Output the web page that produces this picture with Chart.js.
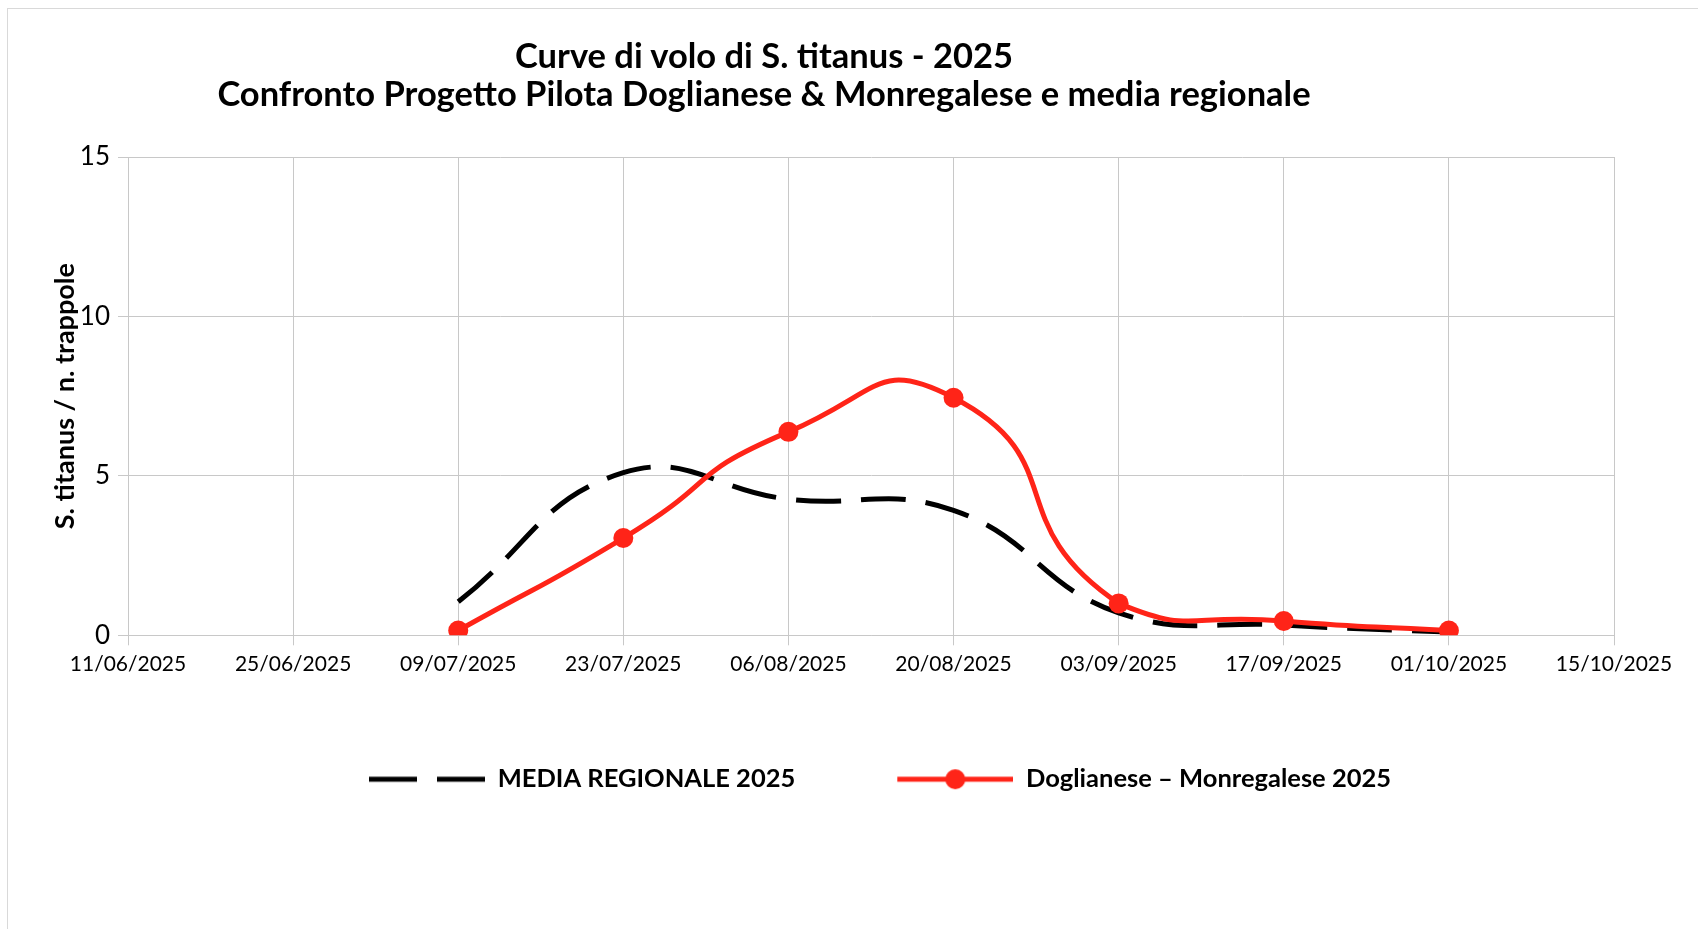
<!DOCTYPE html>
<html lang="it">
<head>
    <meta charset="UTF-8">
    <title>Curve di volo di S. titanus - 2025</title>
    <style>
        body { margin: 0; background: #fff; font-family: Lato, sans-serif; }
        .wrap { position: relative; width: 1698px; height: 929px; overflow: hidden; }
        .frame { position: absolute; left: 7px; top: 8px; width: 1800px; height: 1000px;
                 border-top: 1px solid #d9d9d9; border-left: 1px solid #d9d9d9; }
        .title { position: absolute; left: 0; top: 36px; width: 1528px; text-align: center;
                 font: bold 34.5px Lato, sans-serif; line-height: 38px; color: #000; }
        canvas { position: absolute; left: 0; top: 0; }
    </style>
</head>
<body>
<div class="wrap">
    <div class="frame"></div>
    <canvas id="chart" width="1698" height="929"></canvas>
    <div class="title">Curve di volo di S. titanus - 2025<br>Confronto Progetto Pilota Doglianese &amp; Monregalese e media regionale</div>
</div>

<script src="https://cdn.jsdelivr.net/npm/chart.js"></script>
<script>
// dates of the trap readings
const dates = ['09/07/2025', '23/07/2025', '06/08/2025', '20/08/2025', '03/09/2025', '17/09/2025', '01/10/2025'];
// S. titanus / n. trappole
const mediaRegionale = [1.05, 5.1, 4.27, 3.92, 0.7, 0.32, 0.1];
const doglianese = [0.15, 3.05, 6.38, 7.45, 1.0, 0.45, 0.15];
// axis range
const axisStart = '11/06/2025';
const axisEnd = '15/10/2025';
const yTicks = [0, 5, 10, 15];

const RED = '#ff2418';

function toDay(s) {
    const p = s.split('/');
    const a = axisStart.split('/');
    return Math.round((Date.UTC(+p[2], +p[1] - 1, +p[0]) - Date.UTC(+a[2], +a[1] - 1, +a[0])) / 86400000);
}
function fmtDay(n) {
    const a = axisStart.split('/');
    const d = new Date(Date.UTC(+a[2], +a[1] - 1, +a[0]) + n * 86400000);
    const dd = String(d.getUTCDate()).padStart(2, '0');
    const mm = String(d.getUTCMonth() + 1).padStart(2, '0');
    return dd + '/' + mm + '/' + d.getUTCFullYear();
}

// legend samples (blank strip on the left keeps the items apart)
const GAP = 18;
function sample(kind) {
    const c = document.createElement('canvas');
    c.width = 116 + GAP; c.height = 24;
    const g = c.getContext('2d');
    g.lineWidth = 5;
    if (kind === 'dash') {
        g.strokeStyle = '#000';
        g.setLineDash([48, 20]);
        g.beginPath(); g.moveTo(GAP, 12); g.lineTo(GAP + 116, 12); g.stroke();
    } else {
        g.strokeStyle = RED;
        g.beginPath(); g.moveTo(GAP, 12); g.lineTo(GAP + 116, 12); g.stroke();
        g.fillStyle = RED;
        g.beginPath(); g.arc(GAP + 58, 12, 10, 0, Math.PI * 2); g.fill();
    }
    return c;
}
const samples = [sample('dot'), sample('dash')];

Chart.defaults.font.family = 'Lato, sans-serif';
Chart.defaults.color = '#000';

new Chart(document.getElementById('chart'), {
    type: 'line',
    data: {
        datasets: [{
            label: 'Doglianese – Monregalese 2025',
            data: dates.map((d, i) => ({x: toDay(d), y: doglianese[i]})),
            borderColor: RED,
            backgroundColor: RED,
            borderWidth: 5,
            pointRadius: 10,
            pointBorderWidth: 0,
            pointBackgroundColor: RED,
            tension: 0.6
        }, {
            label: 'MEDIA REGIONALE 2025',
            data: dates.map((d, i) => ({x: toDay(d), y: mediaRegionale[i]})),
            borderColor: '#000',
            backgroundColor: '#000',
            borderWidth: 5,
            borderDash: [45, 20],
            pointRadius: 0,
            tension: 0.45
        }]
    },
    options: {
        responsive: false,
        animation: false,
        layout: { padding: { left: 40, right: 84, top: 157, bottom: 127 } },
        scales: {
            x: {
                type: 'linear',
                min: toDay(axisStart),
                max: toDay(axisEnd),
                grid: { color: '#c8c8c8', tickLength: 10 },
                border: { color: '#c8c8c8' },
                ticks: { stepSize: 14, padding: 6, maxRotation: 0, font: { size: 21 },
                         callback: v => fmtDay(v) }
            },
            y: {
                min: yTicks[0],
                max: yTicks[yTicks.length - 1],
                afterFit: s => { s.width = 88; },
                afterBuildTicks: s => { s.ticks = yTicks.map(v => ({value: v})); },
                grid: { color: '#c8c8c8', tickLength: 10 },
                border: { color: '#c8c8c8' },
                ticks: { padding: 8, font: { size: 26 } },
                title: { display: true, text: 'S. titanus / n. trappole',
                         font: { size: 27, weight: 'bold' }, padding: { top: 9, bottom: 0 } }
            }
        },
        plugins: {
            tooltip: { enabled: false },
            legend: {
                position: 'bottom',
                fullSize: false,
                labels: {
                    usePointStyle: true,
                    pointStyleWidth: 116 + GAP,
                    padding: 84,
                    font: { size: 25.5, weight: 'bold' },
                    generateLabels: chart => {
                        const items = Chart.defaults.plugins.legend.labels.generateLabels(chart);
                        items.forEach(it => { it.pointStyle = samples[it.datasetIndex]; });
                        return items.reverse();
                    }
                }
            }
        }
    }
});
</script>
</body>
</html>
